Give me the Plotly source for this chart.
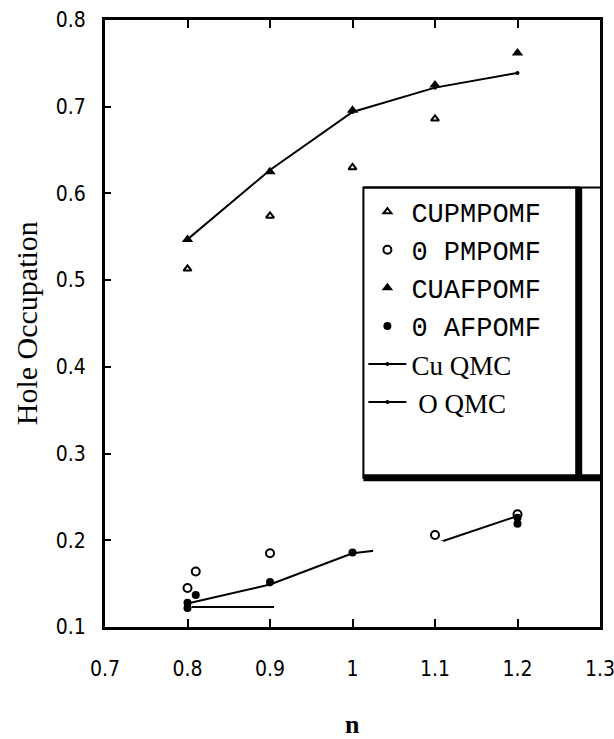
import plotly.graph_objects as go

# ---- data ----
n_vals = [0.8, 0.9, 1.0, 1.1, 1.2]

cu_pm_x = [0.8, 0.9, 1.0, 1.1]
cu_pm_y = [0.513, 0.574, 0.630, 0.686]

o_pm_x = [0.8, 0.81, 0.9, 1.1, 1.2]
o_pm_y = [0.145, 0.164, 0.185, 0.206, 0.230]

cu_af_x = [0.8, 0.9, 1.0, 1.1, 1.2]
cu_af_y = [0.547, 0.625, 0.696, 0.725, 0.762]

o_af_x = [0.8, 0.8, 0.81, 0.9, 1.0, 1.2, 1.2]
o_af_y = [0.122, 0.128, 0.137, 0.152, 0.186, 0.219, 0.226]

cu_qmc_y = [0.547, 0.627, 0.694, 0.722, 0.739]
o_qmc_y = [0.127, 0.149, 0.185, 0.196, 0.228]

stray_x = [0.805, 0.905]
stray_y = [0.123, 0.123]

x_ticks = [0.7, 0.8, 0.9, 1.0, 1.1, 1.2, 1.3]
x_tick_labels = ["0.7", "0.8", "0.9", "1", "1.1", "1.2", "1.3"]
y_ticks = [0.1, 0.2, 0.3, 0.4, 0.5, 0.6, 0.7, 0.8]
y_tick_labels = ["0.1", "0.2", "0.3", "0.4", "0.5", "0.6", "0.7", "0.8"]

MONO = "Liberation Mono, Courier New, monospace"
SERIF = "Liberation Serif, Times New Roman, serif"
NARROW = "DejaVu Sans Condensed, Liberation Serif, serif"

fig = go.Figure()

fig.add_trace(go.Scatter(x=cu_pm_x, y=cu_pm_y, mode="markers", name="CUPMPOMF",
                         marker=dict(symbol="triangle-up-open", size=7, color="black",
                                     line=dict(width=2, color="black"))))
fig.add_trace(go.Scatter(x=o_pm_x, y=o_pm_y, mode="markers", name="0\u00a0PMPOMF",
                         marker=dict(symbol="circle-open", size=8, color="black",
                                     line=dict(width=2, color="black"))))
fig.add_trace(go.Scatter(x=cu_af_x, y=cu_af_y, mode="markers", name="CUAFPOMF",
                         marker=dict(symbol="triangle-up", size=10, color="black")))
fig.add_trace(go.Scatter(x=o_af_x, y=o_af_y, mode="markers", name="0\u00a0AFPOMF",
                         marker=dict(symbol="circle", size=8, color="black")))
fig.add_trace(go.Scatter(x=n_vals, y=cu_qmc_y, mode="lines+markers",
                         name="<span style='font-family:Liberation Serif'>Cu QMC</span>",
                         line=dict(color="black", width=2),
                         marker=dict(symbol="circle", size=4, color="black")))
fig.add_trace(go.Scatter(x=n_vals, y=o_qmc_y, mode="lines+markers",
                         name="<span style='font-family:Liberation Serif'>\u00a0O QMC</span>",
                         line=dict(color="black", width=2),
                         marker=dict(symbol="circle", size=4, color="black")))
fig.add_trace(go.Scatter(x=stray_x, y=stray_y, mode="lines", showlegend=False,
                         line=dict(color="black", width=2)))

# legend box geometry (paper coords)
L, T, R, B = 0.522, 0.724, 0.957, 0.246
shapes = [
    dict(type="rect", xref="x", yref="y", x0=1.025, x1=1.11, y0=0.186, y1=0.1995,
         fillcolor="white", line=dict(width=0), layer="above"),
    dict(type="rect", xref="paper", yref="paper", x0=L, x1=R, y0=B, y1=T,
         fillcolor="white", line=dict(color="black", width=2), layer="above"),
    dict(type="line", xref="paper", yref="paper", x0=L, x1=1.0, y0=T, y1=T,
         line=dict(color="black", width=2), layer="above"),
    dict(type="line", xref="paper", yref="paper", x0=R, x1=R, y0=B, y1=T,
         line=dict(color="black", width=7), layer="above"),
    dict(type="line", xref="paper", yref="paper", x0=L, x1=1.0, y0=B, y1=B,
         line=dict(color="black", width=7), layer="above"),
]

annotations = [
    dict(text="Hole Occupation", xref="paper", yref="paper", x=-0.158, y=0.5,
         xanchor="center", yanchor="middle", textangle=-90, showarrow=False,
         font=dict(family=SERIF, size=30, color="black")),
    dict(text="<b>n</b>", xref="paper", yref="paper", x=0.5, y=-0.161,
         xanchor="center", yanchor="middle", showarrow=False,
         font=dict(family=SERIF, size=26, color="black")),
]

fig.update_layout(
    width=614, height=739,
    margin=dict(l=105, r=14, t=20, b=112),
    paper_bgcolor="white", plot_bgcolor="white",
    shapes=shapes, annotations=annotations,
    legend=dict(x=L, y=T, xanchor="left", yanchor="top",
                bgcolor="rgba(0,0,0,0)", borderwidth=0,
                font=dict(family=MONO, size=27, color="black"),
                itemwidth=38),
    xaxis=dict(range=[0.7, 1.3], tickvals=x_ticks, ticktext=x_tick_labels,
               ticks="inside", ticklen=8, tickwidth=2, tickcolor="black",
               showline=True, linewidth=3, linecolor="black", mirror="allticks",
               showgrid=False, zeroline=False, automargin=False,
               ticklabelstandoff=21, ticklabeloverflow="allow",
               tickfont=dict(family=NARROW, size=21, color="black")),
    yaxis=dict(range=[0.1, 0.8], tickvals=y_ticks, ticktext=y_tick_labels,
               ticks="inside", ticklen=6, tickwidth=2, tickcolor="black",
               showline=True, linewidth=3, linecolor="black", mirror=True,
               showgrid=False, zeroline=False, automargin=False,
               ticklabelstandoff=12,
               tickfont=dict(family=NARROW, size=21, color="black")),
)

fig.write_html("out.html", config={"displayModeBar": False},
               post_script="document.body.style.margin='0';document.body.style.overflow='hidden';")
